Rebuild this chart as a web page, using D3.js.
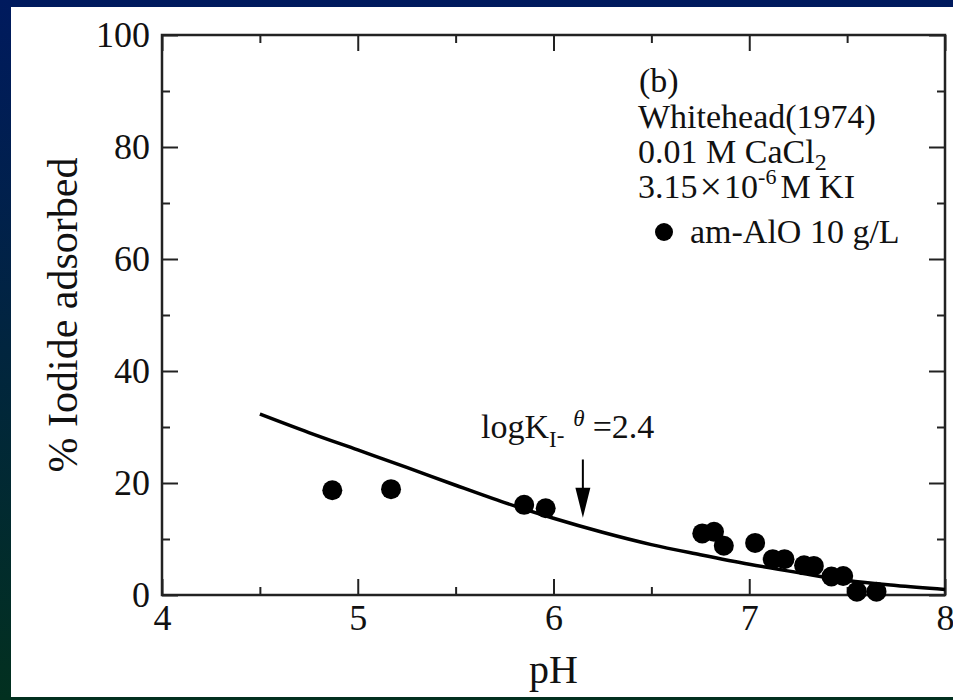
<!DOCTYPE html>
<html lang="en">
    <head>
        <meta charset="utf-8">
        <title>D3: Iodide adsorption vs pH</title>
        <script type="text/javascript" src="https://cdn.jsdelivr.net/npm/d3@7"></script>
        <style type="text/css">
            body { margin: 0; }
            text { font-family: "Liberation Serif", "Times New Roman", serif; fill: #111; }
        </style>
    </head>
    <body>
        <script type="text/javascript">
            // measured points (am-AlO 10 g/L)
            var pointPH  = [4.87, 5.17, 5.85, 5.96, 6.76, 6.82, 6.87, 7.03, 7.12, 7.18, 7.28, 7.33, 7.42, 7.48, 7.55, 7.65];
            var pointPct = [18.7, 18.9, 16.1, 15.5, 11.0, 11.3, 8.8, 9.3, 6.4, 6.4, 5.3, 5.2, 3.3, 3.4, 0.6, 0.6];

            // model curve, logK = 2.4
            var curvePH  = [4.5, 4.75, 5.0, 5.25, 5.5, 5.75, 6.0, 6.25, 6.5, 6.75, 7.0, 7.25, 7.5, 7.75, 8.0];
            var curvePct = [32.3, 29.0, 25.9, 22.8, 19.6, 16.5, 13.7, 11.2, 9.0, 7.2, 5.5, 4.0, 2.6, 1.7, 1.0];

            var xMajor = [4, 5, 6, 7, 8];
            var xMinor = [4.5, 5.5, 6.5, 7.5];
            var yMajor = [0, 20, 40, 60, 80, 100];
            var yMinor = [10, 30, 50, 70, 90];

            var arrowPH = 6.15;
            var arrowTop = 24.2, arrowTip = 13.8;

            //Width and height
            var w = 953;
            var h = 700;
            var pl = 162, pr = 945, pt = 35, pb = 595;

            var svg = d3.select("body")
                        .append("svg")
                        .attr("width", w)
                        .attr("height", h);

            var grad = svg.append("defs").append("linearGradient")
                .attr("id", "bg").attr("x1", 0).attr("y1", 0).attr("x2", 0).attr("y2", 1);
            grad.append("stop").attr("offset", "0%").attr("stop-color", "#001a5e");
            grad.append("stop").attr("offset", "100%").attr("stop-color", "#02301f");

            svg.append("rect").attr("width", w).attr("height", h).attr("fill", "url(#bg)");
            svg.append("rect").attr("x", 11).attr("y", 7)
                .attr("width", w - 11).attr("height", 690).attr("fill", "white");

            var x = d3.scaleLinear().domain([4, 8]).range([pl, pr]);
            var y = d3.scaleLinear().domain([0, 100]).range([pb, pt]);

            function styleAxis(g) {
                g.select(".domain").remove();
                g.selectAll("line").attr("stroke", "#222").attr("stroke-width", 2);
                g.selectAll("text").attr("font-size", 36).attr("fill", "#111")
                    .attr("font-family", "Liberation Serif");
            }

            // bottom
            svg.append("g").attr("transform", "translate(0," + pb + ")")
                .call(d3.axisBottom(x).tickValues(xMajor).tickSize(-16).tickPadding(9).tickFormat(d3.format("d")))
                .call(styleAxis);
            svg.append("g").attr("transform", "translate(0," + pb + ")")
                .call(d3.axisBottom(x).tickValues(xMinor).tickSize(-8).tickFormat(""))
                .call(styleAxis);
            // top
            svg.append("g").attr("transform", "translate(0," + pt + ")")
                .call(d3.axisTop(x).tickValues(xMajor).tickSize(-16).tickFormat(""))
                .call(styleAxis);
            svg.append("g").attr("transform", "translate(0," + pt + ")")
                .call(d3.axisTop(x).tickValues(xMinor).tickSize(-8).tickFormat(""))
                .call(styleAxis);
            // left
            svg.append("g").attr("transform", "translate(" + pl + ",0)")
                .call(d3.axisLeft(y).tickValues(yMajor).tickSize(-16).tickPadding(12).tickFormat(d3.format("d")))
                .call(styleAxis);
            svg.append("g").attr("transform", "translate(" + pl + ",0)")
                .call(d3.axisLeft(y).tickValues(yMinor).tickSize(-8).tickFormat(""))
                .call(styleAxis);
            // right
            svg.append("g").attr("transform", "translate(" + pr + ",0)")
                .call(d3.axisRight(y).tickValues(yMajor).tickSize(-16).tickFormat(""))
                .call(styleAxis);
            svg.append("g").attr("transform", "translate(" + pr + ",0)")
                .call(d3.axisRight(y).tickValues(yMinor).tickSize(-8).tickFormat(""))
                .call(styleAxis);

            // frame
            svg.append("rect")
                .attr("x", pl).attr("y", pt)
                .attr("width", pr - pl).attr("height", pb - pt)
                .attr("fill", "none").attr("stroke", "#222").attr("stroke-width", 2.5);

            // axis titles
            svg.append("text")
                .attr("x", (pl + pr) / 2).attr("y", 683)
                .attr("text-anchor", "middle").attr("font-size", 40)
                .text("pH");
            svg.append("text")
                .attr("transform", "translate(77," + (pb + pt) / 2 + ") rotate(-90)")
                .attr("text-anchor", "middle").attr("font-size", 42)
                .text("% Iodide adsorbed");

            // model curve
            var line = d3.line()
                .x(function(d, i) { return x(curvePH[i]); })
                .y(function(d, i) { return y(curvePct[i]); })
                .curve(d3.curveMonotoneX);
            svg.append("path")
                .datum(curvePH)
                .attr("d", line)
                .attr("fill", "none")
                .attr("stroke", "black")
                .attr("stroke-width", 3.5);

            // data points
            svg.selectAll("circle.pt")
                .data(pointPH)
                .enter()
                .append("circle")
                .attr("class", "pt")
                .attr("cx", function(d) { return x(d); })
                .attr("cy", function(d, i) { return y(pointPct[i]); })
                .attr("r", 10)
                .attr("fill", "black");

            // arrow annotation
            var ax = x(arrowPH);
            svg.append("line")
                .attr("x1", ax).attr("x2", ax)
                .attr("y1", y(arrowTop)).attr("y2", y(arrowTip) - 20)
                .attr("stroke", "black").attr("stroke-width", 2);
            svg.append("path")
                .attr("d", "M" + (ax - 7.5) + "," + (y(arrowTip) - 30) +
                           "L" + (ax + 7.5) + "," + (y(arrowTip) - 30) +
                           "L" + ax + "," + y(arrowTip) + "Z")
                .attr("fill", "black");

            var ann = svg.append("text")
                .attr("x", 481).attr("y", 438)
                .attr("font-size", 34);
            ann.append("tspan").text("logK");
            ann.append("tspan").attr("font-size", 23).attr("dy", 9).text("I");
            ann.append("tspan").attr("font-size", 23).attr("dy", -4).text("-");
            ann.append("tspan").attr("font-size", 23).attr("font-style", "italic")
                .attr("dx", 9).attr("dy", -17).text("\u03b8");
            ann.append("tspan").attr("dx", 8).attr("dy", 12).text("=2.4");

            // info block
            var fs = 34;
            svg.append("text").attr("x", 639).attr("y", 92).attr("font-size", fs).text("(b)");
            svg.append("text").attr("x", 638).attr("y", 128).attr("font-size", fs).text("Whitehead(1974)");
            var t3 = svg.append("text").attr("x", 638).attr("y", 163).attr("font-size", fs);
            t3.append("tspan").text("0.01 M CaCl");
            t3.append("tspan").attr("font-size", 24).attr("dy", 7).text("2");
            var t4 = svg.append("text").attr("x", 638).attr("y", 198).attr("font-size", fs);
            t4.append("tspan").text("3.15");
            t4.append("tspan").attr("font-size", 40).attr("dx", 2).attr("dy", 2).text("\u00d7");
            t4.append("tspan").attr("dx", 2).attr("dy", -2).text("10");
            t4.append("tspan").attr("font-size", 22).attr("dy", -14).text("-6");
            t4.append("tspan").attr("dx", 4).attr("dy", 14).text("M KI");

            svg.append("circle").attr("cx", 664).attr("cy", 232).attr("r", 9).attr("fill", "black");
            svg.append("text").attr("x", 690).attr("y", 243).attr("font-size", fs).text("am-AlO 10 g/L");
        </script>
    </body>
</html>
